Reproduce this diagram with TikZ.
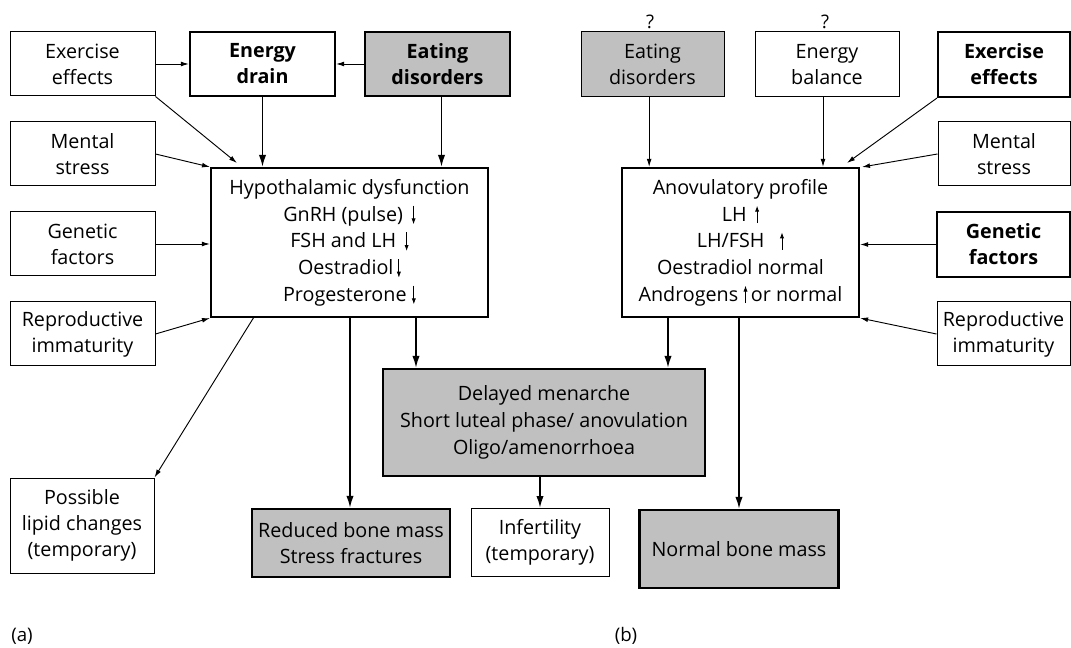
\documentclass[tikz,border=0pt]{standalone}
\usepackage{fontspec}
\setmainfont{Open Sans}
\usetikzlibrary{arrows.meta,calc}
\definecolor{boxgray}{RGB}{192,192,192}
\newcommand{\dnar}{\tikz[baseline=0pt]\draw[line width=0.65pt,-{Latex[length=4.5pt,width=3.2pt]}] (0pt,11.5pt)--(0pt,-2.5pt);}
\newcommand{\uppar}{\tikz[baseline=0pt]\draw[line width=0.65pt,-{Latex[length=4.5pt,width=3.2pt]}] (0pt,-1.5pt)--(0pt,11.5pt);}
\tikzset{
  box/.style={draw, line width=0.75pt, align=center, inner sep=0pt, font=\fontsize{14.8pt}{19.5pt}\selectfont},
  tbox/.style={box, line width=1.6pt},
  bbox/.style={tbox, font=\fontsize{14.8pt}{19.5pt}\selectfont\bfseries},
  gbox/.style={fill=boxgray},
  wh/.style 2 args={minimum width=#1*0.75pt, minimum height=#2*0.75pt},
  arr/.style={line width=0.7pt, -{Latex[length=6pt,width=3.6pt]}},
  tarr/.style={line width=1.3pt, -{Latex[length=9pt,width=5.5pt]}},
  lab/.style={font=\fontsize{14pt}{16pt}\selectfont, inner sep=0pt}
}
\begin{document}
\begin{tikzpicture}[x=0.75pt,y=-0.75pt]
\useasboundingbox (0,0) rectangle (1071,648);
% ---------- (a) ----------
\node[box, wh={145}{64}] (aex) at (82.5,64) {Exercise\\effects};
\node[bbox, wh={145}{64}] (aed) at (262.5,64) {Energy\\drain};
\node[bbox, gbox, wh={145}{64}] (aeat) at (437.5,64) {Eating\\disorders};
\node[box, wh={145}{64}] (ams) at (82.5,154) {Mental\\stress};
\node[box, wh={145}{64}] (agen) at (82.5,244) {Genetic\\factors};
\node[box, wh={145}{64}] (arep) at (82.5,334) {Reproductive\\immaturity};
\node[tbox, wh={277}{149}, font=\fontsize{14.8pt}{20pt}\selectfont] (hyp) at (349.5,242.5)
 {Hypothalamic dysfunction\\GnRH (pulse)\ \,\dnar\\FSH and LH\ \,\dnar\\Oestradiol\,\dnar\\Progesterone\ \dnar};
\node[box, wh={144}{95}] (lipid) at (82,525.5) {Possible\\lipid changes\\(temporary)};
\node[tbox, gbox, wh={322}{107}, font=\fontsize{14.8pt}{20.5pt}\selectfont] (del) at (544,422.5)
 {Delayed menarche\\Short luteal phase/ anovulation\\Oligo/amenorrhoea};
\node[tbox, gbox, wh={198}{68}] (red) at (351,543) {Reduced bone mass\\Stress fractures};
\node[box, wh={138}{68}] (inf) at (540,542.5) {Infertility\\(temporary)};
\node[tbox, gbox, wh={199}{78}] (nbm) at (739,549) {Normal bone mass};
\node[lab] (la) at (22,636) {(a)};
\node[lab] (lb) at (626,636) {(b)};
% ---------- (b) ----------
\node[box, gbox, wh={143}{65}] (beat) at (652.5,64.5) {Eating\\disorders};
\node[box, wh={144}{65}] (beb) at (827,64.5) {Energy\\balance};
\node[lab] (q1) at (650,22) {?};
\node[lab] (q2) at (825,22) {?};
\node[bbox, wh={132}{65}] (bex) at (1004,64.5) {Exercise\\effects};
\node[box, wh={132}{64}] (bms) at (1004,154) {Mental\\stress};
\node[bbox, wh={133}{65}] (bgen) at (1003.5,244.5) {Genetic\\factors};
\node[box, wh={133}{64}] (brep) at (1003.5,334) {Reproductive\\immaturity};
\node[tbox, wh={237}{149}, font=\fontsize{14.8pt}{20pt}\selectfont] (anov) at (740.5,242.5)
 {Anovulatory profile\\LH \,\uppar\\LH/FSH\ \ \ \uppar\\Oestradiol normal\\Androgens \uppar\,or normal};
% ---------- connectors (a) ----------
\coordinate (h1) at (237,163);
\coordinate (hb1) at (254,317);
\coordinate (hb2) at (350,317);
\coordinate (hb3) at (416,317);
\coordinate (ab1) at (668,317);
\coordinate (ab2) at (739,317);
\coordinate (hs1) at (210,167);
\draw[arr] (aex.east) -- (aed.west);
\draw[arr] (aeat.west) -- (aeat.west -| aed.east);
\draw[arr] (aex.south east) -- (h1);
\draw[arr] (ams.east) -- (hs1);
\draw[arr] (agen.east) -- (agen.east -| hyp.west);
\draw[arr] (arep.east) -- (hyp.south west);
\draw[arr] (hb1) -- (lipid.north east);
\draw[tarr] (aed.south) -- (aed.south |- hyp.north);
\draw[tarr] ([xshift=3pt]aeat.south) -- ([xshift=3pt]aeat.south |- hyp.north);
\draw[tarr] (hb2) -- (hb2 |- red.north);
\draw[tarr] (hb3) -- (hb3 |- del.north);
\draw[tarr] (ab1) -- (ab1 |- del.north);
\draw[tarr] (ab2) -- (ab2 |- nbm.north);
\draw[tarr] (del.south -| inf.north) -- (inf.north);
% ---------- connectors (b) ----------
\coordinate (a1) at (847,163);
\coordinate (a2) at (862,167);
\draw[arr] ([xshift=-2.5pt]beat.south) -- ([xshift=-2.5pt]beat.south |- anov.north);
\draw[arr] ([xshift=-3pt]beb.south) -- ([xshift=-3pt]beb.south |- anov.north);
\draw[arr] (bex.south west) -- (a1);
\draw[arr] (bms.west) -- (a2);
\draw[arr] (bgen.west) -- (bgen.west -| anov.east);
\draw[arr] (brep.west) -- (anov.south east);
\end{tikzpicture}
\end{document}
